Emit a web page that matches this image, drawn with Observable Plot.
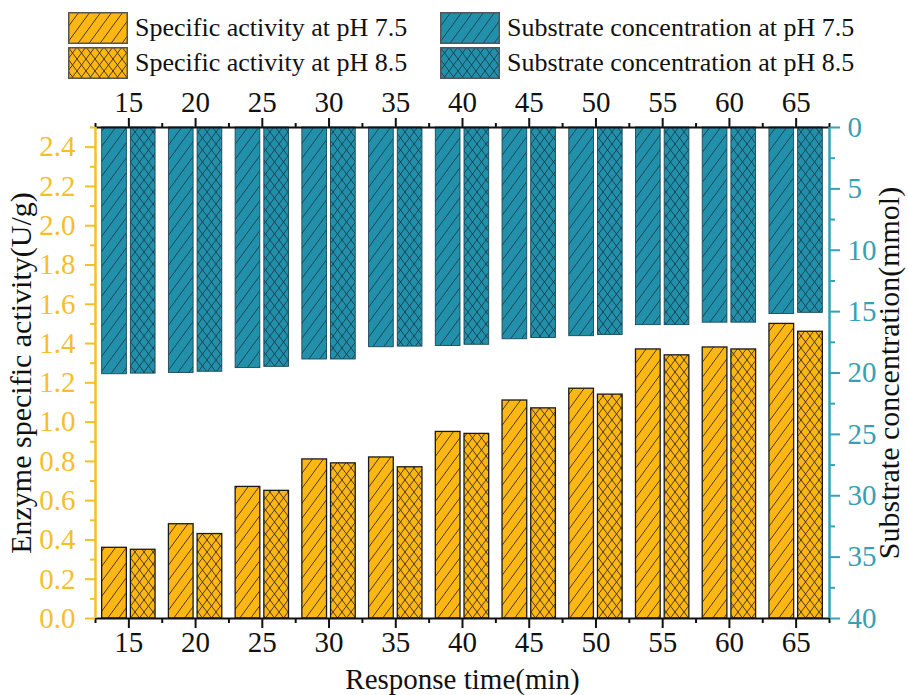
<!DOCTYPE html>
<html>
<head>
<meta charset="utf-8">
<script src="https://cdn.jsdelivr.net/npm/d3@7"></script>
<script src="https://cdn.jsdelivr.net/npm/@observablehq/plot@0.6"></script>
<style>
  html, body { margin: 0; padding: 0; background: #fff; }
  #wrap { position: relative; width: 908px; height: 695px; font-family: "Liberation Serif", "Times New Roman", serif; }
  #legend { position: absolute; left: 0; top: 0; width: 908px; height: 90px; }
  .li { position: absolute; display: flex; align-items: center; font-size: 26px; color: #111; white-space: nowrap; }
  .li svg { margin-right: 7px; }
  #wrap svg text { font-family: "Liberation Serif", "Times New Roman", serif !important; }
</style>
</head>
<body>
<svg id="defs" width="0" height="0" style="position:absolute"><defs></defs></svg>
<div id="wrap">
  <div id="legend"></div>
</div>
<script>
// ---- data ----
const times = [15, 20, 25, 30, 35, 40, 45, 50, 55, 60, 65];
const activity75 = [0.36, 0.48, 0.67, 0.81, 0.82, 0.95, 1.11, 1.17, 1.37, 1.38, 1.50];
const activity85 = [0.35, 0.43, 0.65, 0.79, 0.77, 0.94, 1.07, 1.14, 1.34, 1.37, 1.46];
const substrate75 = [20.1, 20.0, 19.6, 18.9, 17.9, 17.8, 17.25, 17.0, 16.1, 15.9, 15.2];
const substrate85 = [20.05, 19.9, 19.5, 18.9, 17.85, 17.7, 17.15, 16.9, 16.1, 15.9, 15.1];
const leftTicks = [0, 0.2, 0.4, 0.6, 0.8, 1.0, 1.2, 1.4, 1.6, 1.8, 2.0, 2.2, 2.4];
const rightTicks = [0, 5, 10, 15, 20, 25, 30, 35, 40];
const legendLabels = [
  "Specific activity at pH 7.5",
  "Specific activity at pH 8.5",
  "Substrate concentration at pH 7.5",
  "Substrate concentration at pH 8.5"
];
const xTitle = "Response time(min)";
const yLeftTitle = "Enzyme specific activity(U/g)";
const yRightTitle = "Substrate concentration(mmol)";

// ---- styling ----
const yellowAxis = "#F6BE2A";
const tealAxis = "#37A0B6";
const barYellow = "#FCB714";
const barBlue = "#2290AB";
const font = "Liberation Serif";
const tickFont = 29;
const yMax = 2.5, subMax = 40;
const subToY = s => yMax - s * yMax / subMax;
const halfW = 2.0, gap = 0.15;

// hatch patterns
function hatch(id, fill, line, w, h, cross) {
  let d = "";
  for (const k of [-1, 0, 1]) {
    d += `M${k * w - w},${2 * h} L${k * w + 2 * w},${-h} `;
    if (cross) d += `M${k * w - w},${-h} L${k * w + 2 * w},${2 * h} `;
  }
  const p = d3.select("#defs defs").append("pattern")
    .attr("id", id).attr("patternUnits", "userSpaceOnUse")
    .attr("width", w).attr("height", h);
  p.append("rect").attr("width", w).attr("height", h).attr("fill", fill);
  p.append("path").attr("d", d).attr("stroke", line).attr("stroke-width", 0.9).attr("fill", "none");
}
hatch("yDiag", barYellow, "#3a2a10", 11, 15, false);
hatch("yCross", barYellow, "#3a2a10", 9, 12, true);
hatch("bDiag", barBlue, "#143f4c", 11, 15, false);
hatch("bCross", barBlue, "#143f4c", 9, 12, true);

const actRows = [];
const subRows = [];
times.forEach((t, i) => {
  actRows.push({t, v: activity75[i], x1: t - halfW, x2: t - gap, fill: "url(#yDiag)"});
  actRows.push({t, v: activity85[i], x1: t + gap, x2: t + halfW, fill: "url(#yCross)"});
  subRows.push({t, s: substrate75[i], x1: t - halfW, x2: t - gap, fill: "url(#bDiag)"});
  subRows.push({t, s: substrate85[i], x1: t + gap, x2: t + halfW, fill: "url(#bCross)"});
});
const minorX = times.map(t => t - 2.5).concat([times[times.length - 1] + 2.5]);
const minorLeft = leftTicks.map(v => v + 0.1);
const minorRight = rightTicks.slice(0, -1).map(v => v + 2.5);

const plot = Plot.plot({
  width: 908,
  height: 695,
  marginLeft: 95,
  marginRight: 79,
  marginTop: 127,
  marginBottom: 77,
  style: {fontFamily: font, fontSize: tickFont + "px", background: "white"},
  x: {domain: [12.5, 67.5], axis: null},
  y: {domain: [0, yMax], axis: null},
  marks: [
    // substrate bars hanging from the top (right axis, reversed)
    Plot.rect(subRows, {x1: "x1", x2: "x2", y1: () => yMax, y2: d => subToY(d.s), fill: d => d.fill, stroke: "#1c4856", strokeWidth: 0.9}),
    // activity bars
    Plot.rect(actRows, {x1: "x1", x2: "x2", y1: () => 0, y2: "v", fill: d => d.fill, stroke: "#1a1a1a", strokeWidth: 1.3}),
    // bottom axis
    Plot.axisX({anchor: "bottom", label: null, ticks: times, tickSize: 10, tickPadding: 3, fontSize: tickFont, fontFamily: font, color: "#111", strokeWidth: 2}),
    Plot.axisX({anchor: "bottom", label: null, ticks: minorX, tickSize: 5, tickFormat: () => "", color: "#111", strokeWidth: 2}),
    // top axis
    Plot.axisX({anchor: "top", label: null, ticks: times, tickSize: 10, tickPadding: 6, fontSize: tickFont, fontFamily: font, color: "#111", strokeWidth: 2}),
    Plot.axisX({anchor: "top", label: null, ticks: minorX, tickSize: 5, tickFormat: () => "", color: "#111", strokeWidth: 2}),
    // left axis
    Plot.axisY({anchor: "left", label: null, ticks: leftTicks, tickSize: 10, tickPadding: 10, tickFormat: d => d.toFixed(1), fontSize: tickFont, fontFamily: font, color: yellowAxis, strokeWidth: 2}),
    Plot.axisY({anchor: "left", label: null, ticks: minorLeft, tickSize: 5, tickFormat: () => "", color: yellowAxis, strokeWidth: 2}),
    // right axis (substrate, mapped onto the shared y scale)
    Plot.axisY({anchor: "right", label: null, ticks: rightTicks.map(subToY), tickSize: 10, tickPadding: 8, tickFormat: v => String(Math.round((yMax - v) * subMax / yMax)), fontSize: tickFont, fontFamily: font, color: tealAxis, strokeWidth: 2}),
    Plot.axisY({anchor: "right", label: null, ticks: minorRight.map(subToY), tickSize: 5, tickFormat: () => "", color: tealAxis, strokeWidth: 2}),
    // axis lines
    Plot.ruleY([0], {stroke: "#111", strokeWidth: 2}),
    Plot.ruleY([yMax], {stroke: "#111", strokeWidth: 2}),
    Plot.ruleX([12.5], {stroke: yellowAxis, strokeWidth: 2.5}),
    Plot.ruleX([67.5], {stroke: tealAxis, strokeWidth: 2.5}),
    // axis titles
    Plot.text([xTitle], {frameAnchor: "bottom", dy: 70, text: d => d, textAnchor: "middle", fontSize: 29, fontFamily: font, fill: "#111"}),
    Plot.text([yLeftTitle], {frameAnchor: "left", dx: -74, rotate: -90, text: d => d, textAnchor: "middle", fontSize: 30, fontFamily: font, fill: "#111"}),
    Plot.text([yRightTitle], {frameAnchor: "right", dx: 60, rotate: -90, text: d => d, textAnchor: "middle", fontSize: 30, fontFamily: font, fill: "#111"})
  ]
});
document.getElementById("wrap").appendChild(plot);

// ---- legend ----
const legendFills = ["url(#yDiag)", "url(#yCross)", "url(#bDiag)", "url(#bCross)"];
const legendPos = [[68, 12], [68, 47], [440, 12], [440, 47]];
const legend = document.getElementById("legend");
legendLabels.forEach((lab, i) => {
  const div = document.createElement("div");
  div.className = "li";
  div.style.left = legendPos[i][0] + "px";
  div.style.top = legendPos[i][1] + "px";
  div.innerHTML = `<svg width="60" height="32"><rect x="0.75" y="0.75" width="58.5" height="30.5" fill="${legendFills[i]}" stroke="#555" stroke-width="1.5"/></svg><span></span>`;
  div.querySelector("span").textContent = lab;
  legend.appendChild(div);
});
</script>
</body>
</html>
